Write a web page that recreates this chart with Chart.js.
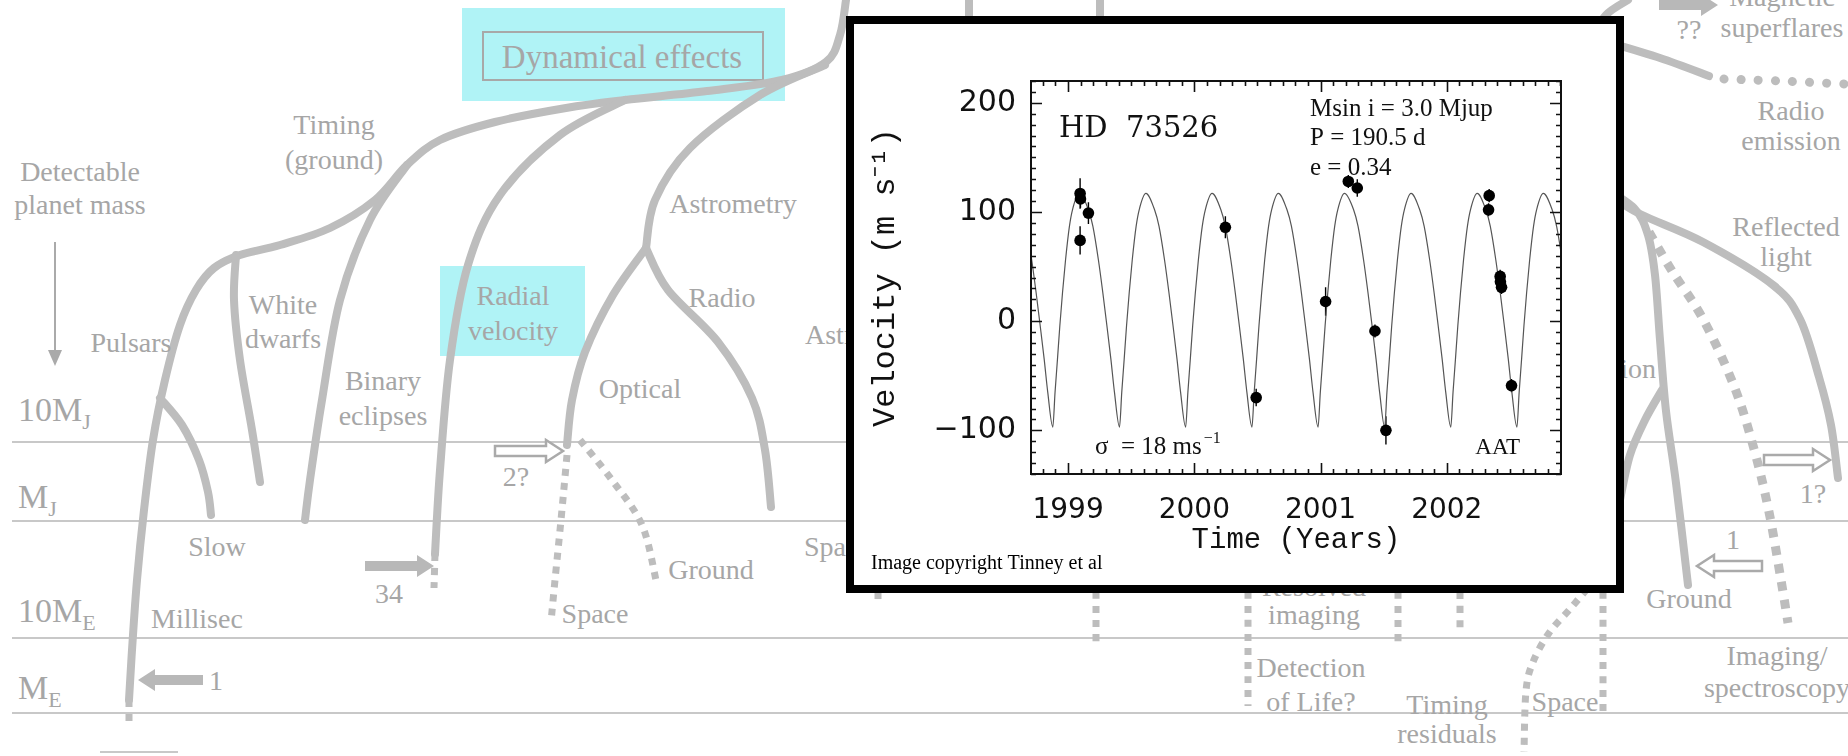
<!DOCTYPE html>
<html><head><meta charset="utf-8">
<script src="https://cdn.jsdelivr.net/npm/chart.js@4.4.0/dist/chart.umd.min.js"></script>
<style>
html,body{margin:0;padding:0;background:#fff;width:1848px;height:756px;overflow:hidden;}
#bg{position:absolute;left:0;top:0;width:1848px;height:756px;}
#inset{position:absolute;left:846px;top:16px;width:762px;height:561px;border:8px solid #000;background:#fff;}
#c{position:absolute;left:0;top:0;}
</style></head>
<body>
<div id="bg"></div>
<div id="inset"><canvas id="c" width="762" height="561"></canvas></div>
<script>
// ---------------- chart data (HD 73526, AAT) ----------------
const xTickValues = [1999, 2000, 2001, 2002];
const yTickValues = [-100, 0, 100, 200];
const xRange = [1998.706, 2002.905];
const yRange = [-140, 220];
const xMinorStep = 0.1, yMinorStep = 10;

// observed radial velocities (m/s) with error bars
const obsYears = [1999.095, 1999.098, 1999.161, 1999.095, 2000.246, 2000.490, 2001.040, 2001.220, 2001.291, 2001.431, 2001.518, 2002.336, 2002.331, 2002.423, 2002.425, 2002.434, 2002.513];
const obsVel   = [117, 112, 99, 74, 86, -70, 18, 128, 122, -9, -100, 115, 102, 41, 36, 31, -59];
const obsErr   = [14, 8, 10, 13, 10, 8, 13, 6, 8, 6, 13, 6, 6, 6, 6, 6, 6];

// orbital fit curve
const fitYears = [
 1998.6326, 1998.6676, 1998.7116, 1998.7466, 1998.7786, 1998.8106, 1998.8386,
 1998.8786, 1998.8966, 1998.9156, 1998.9346, 1998.9556, 1998.9796, 1999.0106, 1999.0346, 1999.0876,
 1999.1611, 1999.1961, 1999.2401, 1999.2751, 1999.3071, 1999.3391, 1999.3671,
 1999.4071, 1999.4251, 1999.4441, 1999.4631, 1999.4841, 1999.5081, 1999.5391, 1999.5631, 1999.6161,
 1999.6850, 1999.7200, 1999.7640, 1999.7990, 1999.8310, 1999.8630, 1999.8910,
 1999.9310, 1999.9490, 1999.9680, 1999.9870, 2000.0080, 2000.0320, 2000.0630, 2000.0870, 2000.1400,
 2000.2103, 2000.2453, 2000.2893, 2000.3243, 2000.3563, 2000.3883, 2000.4163,
 2000.4563, 2000.4743, 2000.4933, 2000.5123, 2000.5333, 2000.5573, 2000.5883, 2000.6123, 2000.6653,
 2000.7342, 2000.7692, 2000.8132, 2000.8482, 2000.8802, 2000.9122, 2000.9402,
 2000.9802, 2000.9982, 2001.0172, 2001.0362, 2001.0572, 2001.0812, 2001.1122, 2001.1362, 2001.1892,
 2001.2619, 2001.2969, 2001.3409, 2001.3759, 2001.4079, 2001.4399, 2001.4679,
 2001.5079, 2001.5259, 2001.5449, 2001.5639, 2001.5849, 2001.6089, 2001.6399, 2001.6639, 2001.7169,
 2001.7857, 2001.8207, 2001.8647, 2001.8997, 2001.9317, 2001.9637, 2001.9917,
 2002.0317, 2002.0497, 2002.0687, 2002.0877, 2002.1087, 2002.1327, 2002.1637, 2002.1877, 2002.2407,
 2002.3096, 2002.3446, 2002.3886, 2002.4236, 2002.4556, 2002.4876, 2002.5156,
 2002.5556, 2002.5736, 2002.5926, 2002.6116, 2002.6326, 2002.6566, 2002.6876, 2002.7116, 2002.7646,
 2002.8350, 2002.8700, 2002.9140, 2002.9490
];
const fitVel = [
 102, 87, 56, 26, -4, -35, -65,
 -97, -65, -35, -4, 26, 56, 87, 102, 117,
 102, 87, 56, 26, -4, -35, -65,
 -97, -65, -35, -4, 26, 56, 87, 102, 117,
 102, 87, 56, 26, -4, -35, -65,
 -97, -65, -35, -4, 26, 56, 87, 102, 117,
 102, 87, 56, 26, -4, -35, -65,
 -97, -65, -35, -4, 26, 56, 87, 102, 117,
 102, 87, 56, 26, -4, -35, -65,
 -97, -65, -35, -4, 26, 56, 87, 102, 117,
 102, 87, 56, 26, -4, -35, -65,
 -97, -65, -35, -4, 26, 56, 87, 102, 117,
 102, 87, 56, 26, -4, -35, -65,
 -97, -65, -35, -4, 26, 56, 87, 102, 117,
 102, 87, 56, 26, -4, -35, -65,
 -97, -65, -35, -4, 26, 56, 87, 102, 117,
 102, 87, 56, 26
];

// ---------------- background diagram (decorative) ----------------
(function(){
  const G='#bdbdbd', T='#a6a6a6';
  function smooth(p){let d='M'+p[0][0]+','+p[0][1];for(let i=0;i<p.length-1;i++){const a=p[i-1]||p[i],b=p[i],c=p[i+1],e=p[i+2]||c;const c1=[b[0]+(c[0]-a[0])/6,b[1]+(c[1]-a[1])/6],c2=[c[0]-(e[0]-b[0])/6,c[1]-(e[1]-b[1])/6];d+=' C'+c1.join(',')+' '+c2.join(',')+' '+c.join(',');}return d;}
  const solid=(p,w)=>`<path d="${smooth(p)}" fill="none" stroke="${G}" stroke-width="${w||8}" stroke-linecap="round" stroke-linejoin="round"/>`;
  const dotted=(p,w,da)=>`<path d="${smooth(p)}" fill="none" stroke="${G}" stroke-width="${w||7}" stroke-dasharray="${da||'7 7'}"/>`;
  const roundDots=(p)=>`<path d="${smooth(p)}" fill="none" stroke="${G}" stroke-width="9" stroke-linecap="round" stroke-dasharray="0.1 17"/>`;
  function arrow(x1,x2,y,dir,filled){const bh=5,hh=11,hl=17;const tip=dir>0?x2:x1,tail=dir>0?x1:x2,base=tip-dir*hl;
    const pts=[[tail,y-bh],[base,y-bh],[base,y-hh],[tip,y],[base,y+hh],[base,y+bh],[tail,y+bh]];
    return `<polygon points="${pts.map(q=>q.join(',')).join(' ')}" fill="${filled?'#b8b8b8':'#fff'}" stroke="${filled?'none':'#aaa'}" stroke-width="2.5"/>`;}
  let s=`<svg xmlns="http://www.w3.org/2000/svg" width="1848" height="756" viewBox="0 0 1848 756">`;
  s+=`<rect x="462" y="8" width="323" height="93" fill="#b0f3f6"/>`;
  s+=`<rect x="483" y="32" width="280" height="48" fill="none" stroke="#a8a8a8" stroke-width="2"/>`;
  s+=`<rect x="440" y="266" width="145" height="90" fill="#b0f3f6"/>`;
  [442,521,638,713].forEach(y=>{s+=`<line x1="12" y1="${y}" x2="1848" y2="${y}" stroke="#c8c8c8" stroke-width="2"/>`;});
  s+=`<line x1="100" y1="752" x2="178" y2="752" stroke="#c8c8c8" stroke-width="2"/>`;
  s+=`<line x1="55" y1="242" x2="55" y2="352" stroke="#aaa" stroke-width="2"/><polygon points="48,350 62,350 55,366" fill="#aaa"/>`;
  s+=solid([[129,700],[132,650],[137,580],[144,510],[153,440],[165,380],[180,325],[196,290],[214,268],[240,255],[280,245],[330,228],[375,200],[407,165],[440,140],[495,122],[566,108],[625,100],[707,91],[782,80],[826,62],[840,35],[846,0]]);
  s+=dotted([[129,700],[129,728]]);
  s+=solid([[160,398],[182,425],[199,460],[208,492],[211,515]]);
  s+=solid([[236,255],[234,300],[240,360],[252,430],[260,482]]);
  s+=solid([[407,165],[370,220],[340,300],[322,400],[310,480],[305,520]]);
  s+=solid([[625,100],[560,135],[500,195],[468,265],[450,360],[440,470],[435,554]]);
  s+=dotted([[435,554],[434,588]]);
  s+=solid([[825,65],[760,95],[690,148],[655,200],[646,248]]);
  s+=solid([[646,248],[668,290],[718,342],[752,398],[765,450],[771,507]]);
  s+=solid([[646,248],[613,295],[585,352],[572,400],[567,445]]);
  s+=dotted([[567,455],[561,520],[555,580],[551,622]]);
  s+=dotted([[580,440],[612,480],[642,525],[656,580]]);
  s+=solid([[969,0],[969,16]]); s+=solid([[1100,0],[1100,16]]);
  s+=solid([[1570,70],[1590,40],[1606,15],[1628,0]]);
  s+=solid([[1600,40],[1660,58],[1709,76]]);
  s+=roundDots([[1724,79],[1780,81],[1845,84]]);
  s+=solid([[1600,185],[1634,208],[1648,235],[1655,275],[1660,340],[1666,411],[1676,483],[1688,585]]);
  s+=solid([[1662,390],[1645,420],[1630,455],[1620,500]]);
  s+=solid([[1610,195],[1640,214],[1703,242],[1773,285],[1800,319],[1819,377],[1831,425],[1838,478]]);
  s+=dotted([[1649,232],[1672,271],[1703,319],[1734,386],[1754,449],[1769,512],[1781,580],[1788,623]],9,'9 9');
  s+=dotted([[878,592],[878,604]]);
  s+=dotted([[1096,592],[1096,648]]);
  s+=dotted([[1248,592],[1248,706]]);
  s+=dotted([[1398,592],[1398,643]]);
  s+=dotted([[1460,592],[1460,633]]);
  s+=dotted([[1603,592],[1603,716]]);
  s+=dotted([[1587,589],[1570,609],[1549,633],[1533,662],[1526,691],[1524,752]]);
  s+=arrow(495,563,451,1,false);
  s+=arrow(365,434,566,1,true);
  s+=arrow(138,203,680,-1,true);
  s+=arrow(1764,1830,460,1,false);
  s+=arrow(1697,1762,566,-1,false);
  s+=arrow(1659,1718,5,1,true);
  const tx=[["Detectable",80,171],["planet mass",80,204],["Pulsars",131,342],["White",283,304],["dwarfs",283,338],
   ["Timing",334,124],["(ground)",334,159],["Binary",383,380],["eclipses",383,415],["Radial",513,295],["velocity",513,330],
   ["Astrometry",733,203],["Radio",722,297],["Optical",640,388],["Slow",217,546],["Millisec",197,618],
   ["2?",516,476],["34",389,593],["Space",595,613],["Ground",711,569],["1",216,680],
   ["Magnetic",1782,-4],["superflares",1782,27],["??",1689,29],["Radio",1791,110],["emission",1791,140],
   ["Reflected",1786,226],["light",1786,256],["1?",1813,493],["1",1733,539],["Ground",1689,598],
   ["Imaging/",1777,655],["spectroscopy",1777,687],["Space",1565,701],["Timing",1447,704],["residuals",1447,733],
   ["Detection",1311,667],["of Life?",1311,701],["imaging",1314,614],["Resolved",1314,586]];
  const F=`font-family="Liberation Serif" font-size="28" fill="${T}" dominant-baseline="central"`;
  tx.forEach(t=>{s+=`<text x="${t[1]}" y="${t[2]}" text-anchor="middle" ${F}>${t[0]}</text>`;});
  s+=`<text x="805" y="334" text-anchor="start" ${F}>Astrometry</text>`;
  s+=`<text x="804" y="546" text-anchor="start" ${F}>Space</text>`;
  s+=`<text x="1656" y="368" text-anchor="end" ${F}>Detection</text>`;
  s+=`<text x="622" y="57" text-anchor="middle" font-family="Liberation Serif" font-size="33" fill="${T}" dominant-baseline="central">Dynamical effects</text>`;
  const M=(x,y,main,sub)=>`<text x="${x}" y="${y}" font-family="Liberation Serif" font-size="34" fill="${T}">${main}<tspan font-size="22" dy="8">${sub}</tspan></text>`;
  s+=M(18,421,'10M','J')+M(18,508,'M','J')+M(18,622,'10M','E')+M(18,699,'M','E');
  s+='</svg>';
  document.getElementById('bg').innerHTML=s;
})();

// ---------------- chart ----------------
const fitData = fitYears.map((x,i)=>({x:x,y:fitVel[i]}));
const obsData = obsYears.map((x,i)=>({x:x,y:obsVel[i]}));

const errorBars = {
  id:'errorBars',
  beforeDatasetsDraw(chart){
    const {ctx, scales:{x,y}} = chart;
    ctx.save(); ctx.strokeStyle='#000'; ctx.lineWidth=1.4; ctx.beginPath();
    obsYears.forEach((t,i)=>{const px=x.getPixelForValue(t);
      ctx.moveTo(px,y.getPixelForValue(obsVel[i]-obsErr[i])); ctx.lineTo(px,y.getPixelForValue(obsVel[i]+obsErr[i]));});
    ctx.stroke(); ctx.restore();
  }
};

function minorValues(min,max,step){const out=[];for(let k=Math.ceil(min/step-1e-9);k*step<=max+1e-9;k++)out.push(+(k*step).toFixed(6));return out;}

const frame = {
  id:'frame',
  afterDraw(chart){
    const {ctx, chartArea:a, scales:{x,y}} = chart;
    ctx.save();
    ctx.strokeStyle='#111'; ctx.lineWidth=2;
    ctx.strokeRect(a.left,a.top,a.right-a.left,a.bottom-a.top);
    ctx.lineWidth=1.6; ctx.beginPath();
    minorValues(y.min,y.max,yMinorStep).forEach(v=>{
      const major=yTickValues.includes(v); const L=major?11:5; const py=Math.round(y.getPixelForValue(v))+0.5;
      ctx.moveTo(a.left,py); ctx.lineTo(a.left+L,py); ctx.moveTo(a.right,py); ctx.lineTo(a.right-L,py);});
    minorValues(x.min,x.max,xMinorStep).forEach(v=>{
      const major=xTickValues.some(t=>Math.abs(t-v)<1e-6); const L=major?11:5; const px=Math.round(x.getPixelForValue(v))+0.5;
      ctx.moveTo(px,a.bottom); ctx.lineTo(px,a.bottom-L); ctx.moveTo(px,a.top); ctx.lineTo(px,a.top+L);});
    ctx.stroke();
    ctx.fillStyle='#111'; ctx.textBaseline='alphabetic'; ctx.textAlign='left';
    ctx.font='29px "DejaVu Serif"'; ctx.fillText('HD  73526', a.left+28, a.top+56);
    ctx.font='25px "Liberation Serif"';
    ctx.fillText('Msin i = 3.0 Mjup', a.left+279, a.top+35);
    ctx.fillText('P = 190.5 d', a.left+279, a.top+64);
    ctx.fillText('e = 0.34', a.left+279, a.top+94);
    const s1='\u03C3  = 18 ms'; ctx.fillText(s1, a.left+64, a.bottom-20);
    const w1=ctx.measureText(s1).width; ctx.font='16px "Liberation Serif"'; ctx.fillText('\u22121', a.left+64+w1+2, a.bottom-31);
    ctx.font='23px "Liberation Serif"'; ctx.textAlign='right'; ctx.fillText('AAT', a.right-41, a.bottom-20);
    ctx.textAlign='left'; ctx.fillStyle='#000'; ctx.font='20px "Liberation Serif"';
    ctx.fillText('Image copyright Tinney et al', 17, 545);
    ctx.restore();
  }
};

new Chart(document.getElementById('c'), {
  type:'scatter',
  data:{datasets:[
    {data:fitData, showLine:true, pointRadius:0, borderColor:'#555', borderWidth:1.2, cubicInterpolationMode:'monotone', order:2},
    {data:obsData, pointRadius:5.8, pointBackgroundColor:'#000', pointBorderWidth:0, showLine:false, order:1}
  ]},
  options:{
    responsive:false, animation:false, devicePixelRatio:1,
    layout:{padding:{left:0,right:55,top:57,bottom:0}},
    plugins:{legend:{display:false}, tooltip:{enabled:false}},
    events:[],
    scales:{
      x:{type:'linear', min:xRange[0], max:xRange[1],
        afterBuildTicks:s=>{s.ticks=xTickValues.map(v=>({value:v}));},
        afterFit:s=>{s.height=111;},
        grid:{display:false, drawTicks:false}, border:{display:false},
        ticks:{padding:20, color:'#111', font:{family:'DejaVu Sans', size:28}, callback:v=>String(v), maxRotation:0, autoSkip:false},
        title:{display:true, text:'Time (Years)', color:'#111', font:{family:'Liberation Mono', size:29}, padding:{top:0,bottom:27}}
      },
      y:{type:'linear', min:yRange[0], max:yRange[1],
        afterBuildTicks:s=>{s.ticks=yTickValues.map(v=>({value:v}));},
        afterFit:s=>{s.width=177;},
        grid:{display:false, drawTicks:false}, border:{display:false},
        ticks:{padding:15, color:'#111', font:{family:'DejaVu Sans', size:30}, callback:v=>v<0?'\u2212'+Math.abs(v):String(v), autoSkip:false},
        title:{display:true, text:'Velocity (m s\u207B\u00B9)', color:'#111', font:{family:'Liberation Mono', size:32}, padding:{top:12,bottom:0}}
      }
    }
  },
  plugins:[errorBars, frame]
});
</script>
</body></html>
